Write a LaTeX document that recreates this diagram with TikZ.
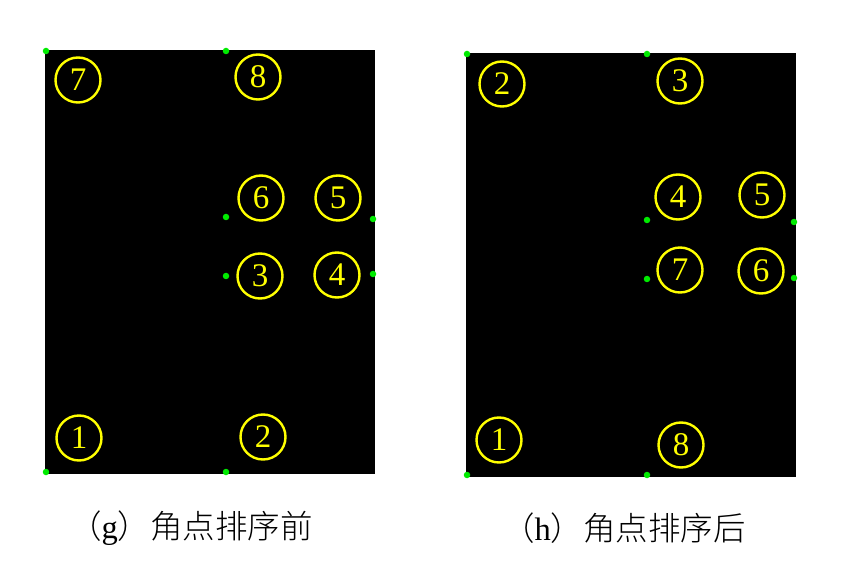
\documentclass[tikz,border=0pt]{standalone}
\usepackage{fontspec}
\newfontfamily\cjk{Noto Sans CJK SC Light}
\newfontfamily\digitfont{Liberation Serif}
\definecolor{ringyellow}{RGB}{255,255,0}
\definecolor{cornergreen}{RGB}{0,235,0}

\begin{document}
\begin{tikzpicture}[x=1pt,y=-1pt,
    numcirc/.style={circle, draw=ringyellow, line width=2.4pt, minimum size=45pt,
        inner sep=0pt, text=ringyellow, font=\digitfont\fontsize{33}{33}\selectfont},
    cornerdot/.style={circle, fill=cornergreen, minimum size=6.5pt, inner sep=0pt},
    caption/.style={font=\digitfont\fontsize{32.5}{32.5}\selectfont, inner sep=0pt}
]
\useasboundingbox (0,0) rectangle (846,577);

\fill[black] (45,50) rectangle (375,474);
\fill[black] (466,53) rectangle (796,477);

\node[numcirc] (g7) at (78,80) {7};
\node[numcirc] (g8) at (258,77) {8};
\node[numcirc] (g6) at (261,198) {6};
\node[numcirc] (g5) at (338,198) {5};
\node[numcirc] (g3) at (260,276) {3};
\node[numcirc] (g4) at (337,275) {4};
\node[numcirc] (g1) at (79,438) {1};
\node[numcirc] (g2) at (263,437) {2};

\node[cornerdot] (gc1) at (46,51) {};
\node[cornerdot] (gc2) at (226,51) {};
\node[cornerdot] (gc3) at (226,217) {};
\node[cornerdot] (gc4) at (373,219) {};
\node[cornerdot] (gc5) at (226,276) {};
\node[cornerdot] (gc6) at (373,274) {};
\node[cornerdot] (gc7) at (46,472) {};
\node[cornerdot] (gc8) at (226,472) {};

\node[numcirc] (h2) at (502,84) {2};
\node[numcirc] (h3) at (680,81) {3};
\node[numcirc] (h4) at (678,197) {4};
\node[numcirc] (h5) at (762,195) {5};
\node[numcirc] (h7) at (680,270) {7};
\node[numcirc] (h6) at (761,271) {6};
\node[numcirc] (h1) at (499,440) {1};
\node[numcirc] (h8) at (681,445) {8};

\node[cornerdot] (hc1) at (467,54) {};
\node[cornerdot] (hc2) at (647,54) {};
\node[cornerdot] (hc3) at (647,220) {};
\node[cornerdot] (hc4) at (794,222) {};
\node[cornerdot] (hc5) at (647,279) {};
\node[cornerdot] (hc6) at (794,278) {};
\node[cornerdot] (hc7) at (467,475) {};
\node[cornerdot] (hc8) at (647,475) {};

\node[caption] (gcap) at (191,528) {{\cjk （}g{\cjk ）角点排序前}};
\node[caption] (hcap) at (624,528) {{\cjk （}h{\cjk ）角点排序后}};
\end{tikzpicture}
\end{document}
